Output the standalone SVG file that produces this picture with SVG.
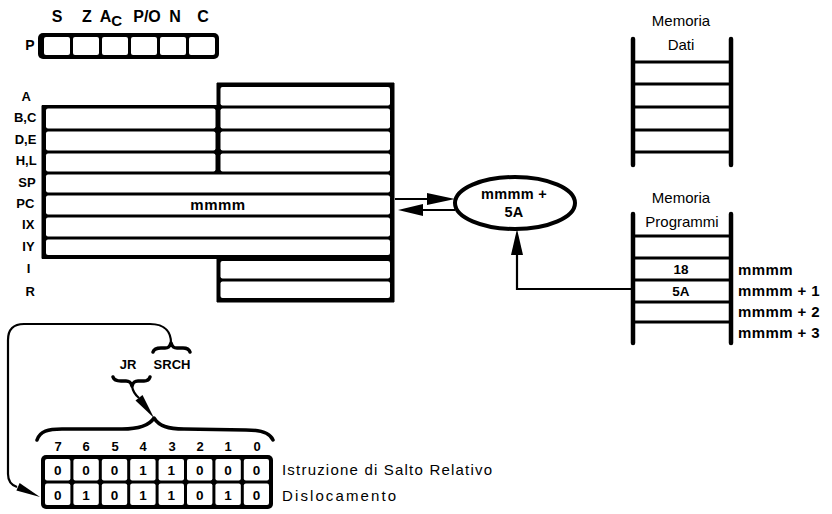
<svg xmlns="http://www.w3.org/2000/svg" width="832" height="514" viewBox="0 0 832 514">
<style>
.b{font-family:"Liberation Sans",Arial,sans-serif;font-weight:bold;fill:#000}
.r{font-family:"Liberation Sans",Arial,sans-serif;fill:#000}
.c{fill:#fff}
.rail{stroke:#000;stroke-width:4.5;stroke-linecap:round;fill:none}
.rung{stroke:#000;stroke-width:3;fill:none}
.ln{stroke:#000;stroke-width:2.2;fill:none}
.br{stroke:#000;stroke-width:3.5;fill:none;stroke-linecap:round;stroke-linejoin:round}
</style>
<rect width="832" height="514" fill="#fff"/>

<g id="flags">
<text class="b" font-size="16" text-anchor="middle" y="22"><tspan x="57">S</tspan><tspan x="87">Z</tspan><tspan x="111">A</tspan><tspan dy="4" font-size="15">C</tspan><tspan x="147" dy="-4">P/O</tspan><tspan x="175">N</tspan><tspan x="203">C</tspan></text>
<text class="b" font-size="14" x="30" y="50" text-anchor="middle">P</text>
<rect x="38" y="33" width="181" height="26" rx="5" fill="#000"/>
<rect class="c" x="44" y="37" width="26" height="18" rx="2"/>
<rect class="c" x="73" y="37" width="26" height="18" rx="2"/>
<rect class="c" x="102" y="37" width="26" height="18" rx="2"/>
<rect class="c" x="131" y="37" width="26" height="18" rx="2"/>
<rect class="c" x="160" y="37" width="26" height="18" rx="2"/>
<rect class="c" x="189" y="37" width="26" height="18" rx="2"/>
</g>

<g id="registers">
<path d="M217,83 H394 V302 H217 V258.5 H42 V105.5 H217 Z" fill="#000" stroke="#000" stroke-width="1" stroke-linejoin="round"/>
<rect class="c" x="220.5" y="87" width="169.5" height="18.5" rx="2"/>
<rect class="c" x="46" y="108.5" width="169.5" height="20" rx="2"/>
<rect class="c" x="220.5" y="108.5" width="169.5" height="20" rx="2"/>
<rect class="c" x="46" y="131.5" width="169.5" height="19" rx="2"/>
<rect class="c" x="220.5" y="131.5" width="169.5" height="19" rx="2"/>
<rect class="c" x="46" y="153.5" width="169.5" height="18" rx="2"/>
<rect class="c" x="220.5" y="153.5" width="169.5" height="18" rx="2"/>
<rect class="c" x="46" y="174.5" width="344" height="18" rx="2"/>
<rect class="c" x="46" y="195.5" width="344" height="19" rx="2"/>
<rect class="c" x="46" y="217.5" width="344" height="19" rx="2"/>
<rect class="c" x="46" y="239.5" width="344" height="15.5" rx="2"/>
<rect class="c" x="220.5" y="261" width="169.5" height="17.5" rx="2"/>
<rect class="c" x="220.5" y="281.5" width="169.5" height="16.5" rx="2"/>
<text class="b" font-size="13" text-anchor="end">
<tspan x="34" y="101">A</tspan>
<tspan x="40" y="122">B,C</tspan>
<tspan x="40" y="144">D,E</tspan>
<tspan x="40" y="165">H,L</tspan>
<tspan x="39" y="187">SP</tspan>
<tspan x="38" y="208">PC</tspan>
<tspan x="38" y="229">IX</tspan>
<tspan x="38" y="251">IY</tspan>
<tspan x="34" y="273">I</tspan>
<tspan x="35" y="296">R</tspan>
</text>
<text class="b" font-size="15" x="218" y="210" text-anchor="middle" letter-spacing="0.5">mmmm</text>
</g>

<g id="adder">
<ellipse cx="515" cy="203" rx="60" ry="26" fill="#fff" stroke="#000" stroke-width="4"/>
<text class="b" font-size="14.5" text-anchor="middle" letter-spacing="0.3"><tspan x="514" y="199">mmmm +</tspan><tspan x="514" y="217">5A</tspan></text>
</g>

<g id="memoria-dati">
<text class="r" font-size="15" text-anchor="middle"><tspan x="681" y="26">Memoria</tspan><tspan x="681" y="50">Dati</tspan></text>
<line class="rail" x1="633" y1="39" x2="633" y2="165"/>
<line class="rail" x1="731" y1="39" x2="731" y2="165"/>
<line class="rung" x1="633" y1="62" x2="731" y2="62"/>
<line class="rung" x1="633" y1="84" x2="731" y2="84"/>
<line class="rung" x1="633" y1="107" x2="731" y2="107"/>
<line class="rung" x1="633" y1="130" x2="731" y2="130"/>
<line class="rung" x1="633" y1="152" x2="731" y2="152"/>
</g>

<g id="memoria-programmi">
<text class="r" font-size="15" text-anchor="middle"><tspan x="681" y="203">Memoria</tspan><tspan x="682" y="227">Programmi</tspan></text>
<line class="rail" x1="633" y1="214" x2="633" y2="343"/>
<line class="rail" x1="731" y1="214" x2="731" y2="343"/>
<line class="rung" x1="633" y1="236" x2="731" y2="236"/>
<line class="rung" x1="633" y1="258" x2="731" y2="258"/>
<line class="rung" x1="633" y1="280" x2="731" y2="280"/>
<line class="rung" x1="633" y1="302" x2="731" y2="302"/>
<line class="rung" x1="633" y1="322" x2="731" y2="322"/>
<text class="b" font-size="13.5" text-anchor="middle"><tspan x="681" y="274">18</tspan><tspan x="681" y="296">5A</tspan></text>
<text class="b" font-size="15" letter-spacing="0.4"><tspan x="738" y="275">mmmm</tspan><tspan x="738" y="296">mmmm + 1</tspan><tspan x="738" y="317">mmmm + 2</tspan><tspan x="738" y="338">mmmm + 3</tspan></text>
</g>

<g id="bits">
<text class="b" font-size="13" text-anchor="middle" y="451"><tspan x="58">7</tspan><tspan x="86">6</tspan><tspan x="115">5</tspan><tspan x="143">4</tspan><tspan x="172">3</tspan><tspan x="200">2</tspan><tspan x="228">1</tspan><tspan x="257">0</tspan></text>
<rect x="41" y="455" width="232" height="54" rx="5" fill="#000"/>
<g class="c">
<rect x="45" y="459" width="25.4" height="21.5" rx="2"/><rect x="73.4" y="459" width="25.4" height="21.5" rx="2"/><rect x="101.8" y="459" width="25.4" height="21.5" rx="2"/><rect x="130.2" y="459" width="25.4" height="21.5" rx="2"/><rect x="158.6" y="459" width="25.4" height="21.5" rx="2"/><rect x="187" y="459" width="25.4" height="21.5" rx="2"/><rect x="215.4" y="459" width="25.4" height="21.5" rx="2"/><rect x="243.8" y="459" width="25.2" height="21.5" rx="2"/>
<rect x="45" y="483.5" width="25.4" height="21.5" rx="2"/><rect x="73.4" y="483.5" width="25.4" height="21.5" rx="2"/><rect x="101.8" y="483.5" width="25.4" height="21.5" rx="2"/><rect x="130.2" y="483.5" width="25.4" height="21.5" rx="2"/><rect x="158.6" y="483.5" width="25.4" height="21.5" rx="2"/><rect x="187" y="483.5" width="25.4" height="21.5" rx="2"/><rect x="215.4" y="483.5" width="25.4" height="21.5" rx="2"/><rect x="243.8" y="483.5" width="25.2" height="21.5" rx="2"/>
</g>
<text class="b" font-size="13.5" text-anchor="middle" y="475"><tspan x="57.7">0</tspan><tspan x="86.1">0</tspan><tspan x="114.5">0</tspan><tspan x="142.9">1</tspan><tspan x="171.3">1</tspan><tspan x="199.7">0</tspan><tspan x="228.1">0</tspan><tspan x="256.4">0</tspan></text>
<text class="b" font-size="13.5" text-anchor="middle" y="500"><tspan x="57.7">0</tspan><tspan x="86.1">1</tspan><tspan x="114.5">0</tspan><tspan x="142.9">1</tspan><tspan x="171.3">1</tspan><tspan x="199.7">0</tspan><tspan x="228.1">1</tspan><tspan x="256.4">0</tspan></text>
<text class="r" font-size="15" x="282" y="475" textLength="210" lengthAdjust="spacing">Istruzione di Salto Relativo</text>
<text class="r" font-size="15" x="282" y="501" textLength="114" lengthAdjust="spacing">Dislocamento</text>
</g>

<g id="mnemonics">
<text class="b" font-size="13" text-anchor="middle" y="369"><tspan x="128">JR</tspan><tspan x="172">SRCH</tspan></text>
<path class="br" stroke-width="2.5" d="M153,352 C154,349 157,348 161,348 L165,348 C169,348 170,346 171,343 C172,346 173,348 177,348 L183,348 C187,348 189,349 190,352"/>
<path class="br" stroke-width="2.5" d="M113,377 C114,380 117,381 121,381 L126,381 C130,381 131,383 132,386 C133,383 134,381 138,381 L144,381 C147,381 149,380 150,377"/>
<path class="br" d="M37,440 C40,431 48,429 62,429 L122,429 C138,429 149,426 154,418 C159,426 168,429 184,429 L246,430 C262,430 270,433 273,440"/>
</g>

<g id="connectors">
<line class="ln" x1="395" y1="199" x2="430" y2="199"/>
<polygon points="427,193 455,199 427,205"/>
<line class="ln" x1="420" y1="210" x2="455" y2="210"/>
<polygon points="398,210 423,204 423,216"/>
<polyline class="ln" points="633,289 517,289 517,250"/>
<polygon points="517,229 511,255 523,255"/>
<path class="ln" d="M132,386 Q133,393 139,398"/>
<polygon points="142.5,395 154,418 135.5,400.5"/>
<path class="ln" d="M171,343 C171,333 166,324 150,324 L24,324 Q8,324 8,340 L8,474 Q8,484 17,487"/>
<polygon points="19.6,483 40,497 16.4,490.6"/>
</g>
</svg>
